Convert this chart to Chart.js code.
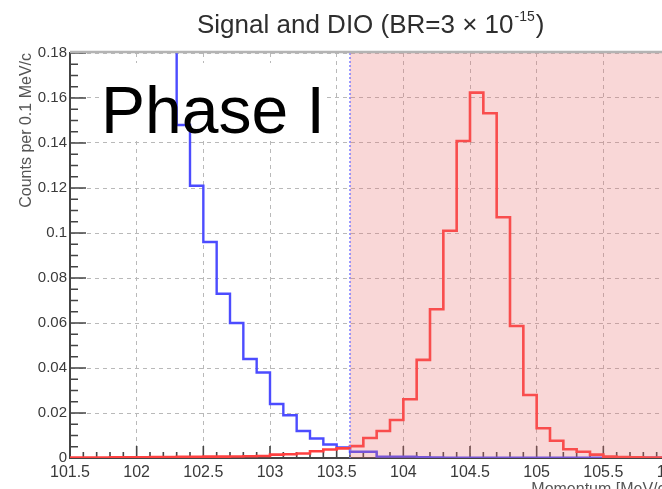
<!DOCTYPE html>
<html>
<head>
<meta charset="utf-8">
<title>Signal and DIO</title>
<script src="https://cdn.jsdelivr.net/npm/chart.js@4.4.1/dist/chart.umd.min.js"></script>
<style>
  html, body { margin: 0; padding: 0; background: #fff; width: 662px; height: 489px; overflow: hidden; }
  #wrap { position: relative; width: 720px; height: 489px; }
  #plot { position: absolute; left: 0; top: 0; filter: blur(0.75px); }
  #phase {
    position: absolute; left: 101px; top: 77px;
    font: 66px "Liberation Sans", Arial, Helvetica, sans-serif;
    line-height: 66px; color: #000; white-space: nowrap;
  }
</style>
</head>
<body>
<div id="wrap">
  <canvas id="plot" width="720" height="489"></canvas>
  <div id="phase">Phase I</div>
</div>
<script>
// Bin edges of the momentum histogram (MeV/c), 0.1 MeV/c bins
const momentumEdges = [
  101.5, 101.6, 101.7, 101.8, 101.9, 102.0, 102.1, 102.2, 102.3, 102.4,
  102.5, 102.6, 102.7, 102.8, 102.9, 103.0, 103.1, 103.2, 103.3, 103.4,
  103.5, 103.6, 103.7, 103.8, 103.9, 104.0, 104.1, 104.2, 104.3, 104.4,
  104.5, 104.6, 104.7, 104.8, 104.9, 105.0, 105.1, 105.2, 105.3, 105.4,
  105.5, 105.6, 105.7, 105.8, 105.9, 106.0
];

// Conversion-electron signal, counts per bin
const signalCounts = [
  0.0002, 0.0002, 0.0002, 0.0003, 0.0003, 0.0003, 0.0004, 0.0004, 0.0005, 0.0005,
  0.0006, 0.0006, 0.0007, 0.0008, 0.0009, 0.0015, 0.0017, 0.0020, 0.0030, 0.0038,
  0.0043, 0.0053, 0.0089, 0.0120, 0.0169, 0.0261, 0.0436, 0.0661, 0.1010, 0.1409,
  0.1624, 0.1532, 0.1070, 0.0587, 0.0280, 0.0132, 0.0077, 0.0039, 0.0028, 0.0015,
  0.0006, 0.0004, 0.0003, 0.0002, 0.0002
];

// Decay-in-orbit background, counts per bin (low-momentum bins run off scale)
const dioCounts = [
  0.62, 0.55, 0.48, 0.42, 0.36, 0.30, 0.25, 0.20, 0.148, 0.121,
  0.096, 0.073, 0.060, 0.044, 0.038, 0.024, 0.019, 0.012, 0.0087, 0.0060,
  0.0047, 0.0028, 0.0028, 0.0006, 0.0006, 0.0006, 0.0004, 0.0002, 0.0001, 0.0001,
  0.0001, 0.0001, 0.0001, 0.0001, 0.0001, 0.0001, 0.0001, 0.0001, 0.0001, 0.0001,
  0.0001, 0.0001, 0.0001, 0.0001, 0.0001
];

// Signal momentum window (MeV/c)
const signalWindow = [103.6, 106.0];

const xTickLabels = ['101.5', '102', '102.5', '103', '103.5', '104', '104.5', '105', '105.5', '106'];
const yTickLabels = ['0', '0.02', '0.04', '0.06', '0.08', '0.1', '0.12', '0.14', '0.16', '0.18'];
const xTickValues = xTickLabels.map(Number);
const yTickValues = yTickLabels.map(Number);

const FONT = '"Liberation Sans", Arial, Helvetica, sans-serif';

// Points for a step histogram: one per lower bin edge, closed at the last upper edge
function stepPoints(counts) {
  const pts = counts.map((v, i) => ({ x: momentumEdges[i], y: v }));
  pts.push({ x: momentumEdges[counts.length], y: counts[counts.length - 1] });
  return pts;
}

// Frame decorations in the ROOT style: inner ticks, shaded window, titles
const rootFrame = {
  id: 'rootFrame',
  beforeDatasetsDraw(chart) {
    const { ctx, chartArea: a, scales: { x, y } } = chart;
    // white panel behind the caption
    ctx.save();
    ctx.fillStyle = '#fff';
    ctx.fillRect(100, 63, 227, 77);
    ctx.restore();

    // inner tick marks
    ctx.save();
    ctx.strokeStyle = '#444';
    ctx.lineWidth = 1.6;
    ctx.beginPath();
    for (let i = 0; i < yTickValues.length; i++) {
      const py = y.getPixelForValue(yTickValues[i]);
      ctx.moveTo(a.left, py); ctx.lineTo(a.left + 16, py);
      if (i < yTickValues.length - 1) {
        const step = (yTickValues[i + 1] - yTickValues[i]) / 4;
        for (let k = 1; k < 4; k++) {
          const pm = y.getPixelForValue(yTickValues[i] + k * step);
          ctx.moveTo(a.left, pm); ctx.lineTo(a.left + 8, pm);
        }
      }
    }
    for (let i = 0; i < xTickValues.length; i++) {
      const px = x.getPixelForValue(xTickValues[i]);
      ctx.moveTo(px, a.bottom); ctx.lineTo(px, a.bottom - 12);
      if (i < xTickValues.length - 1) {
        const step = (xTickValues[i + 1] - xTickValues[i]) / 5;
        for (let k = 1; k < 5; k++) {
          const pm = x.getPixelForValue(xTickValues[i] + k * step);
          ctx.moveTo(pm, a.bottom); ctx.lineTo(pm, a.bottom - 6);
        }
      }
    }
    ctx.stroke();
    ctx.restore();
  },
  afterDatasetsDraw(chart) {
    const { ctx, chartArea: a, scales: { x } } = chart;
    const x0 = x.getPixelForValue(signalWindow[0]);
    const x1 = x.getPixelForValue(signalWindow[1]);
    ctx.save();
    // signal window shading
    ctx.fillStyle = 'rgba(235, 110, 110, 0.28)';
    ctx.fillRect(x0, a.top, x1 - x0, a.bottom - a.top);
    // lower window boundary
    ctx.strokeStyle = '#7c7cff';
    ctx.lineWidth = 1.5;
    ctx.setLineDash([2, 2]);
    ctx.beginPath();
    ctx.moveTo(x0, a.top); ctx.lineTo(x0, a.bottom);
    ctx.stroke();
    ctx.setLineDash([]);
    // top edge of the frame
    ctx.strokeStyle = '#b4b4b4';
    ctx.lineWidth = 2.5;
    ctx.beginPath();
    ctx.moveTo(a.left, a.top - 1); ctx.lineTo(chart.width, a.top - 1);
    ctx.stroke();
    ctx.restore();
  },
  afterDraw(chart) {
    const { ctx, chartArea: a } = chart;
    ctx.save();
    // histogram title with superscript exponent
    ctx.fillStyle = '#2e2e2e';
    ctx.textBaseline = 'alphabetic';
    ctx.textAlign = 'left';
    const main = 'Signal and DIO (BR=3 \u00d7 10';
    ctx.font = '26px ' + FONT;
    let tx = 197;
    const ty = 33;
    ctx.fillText(main, tx, ty);
    tx += ctx.measureText(main).width + 1;
    ctx.font = '14px ' + FONT;
    ctx.fillText('-15', tx, ty - 12);
    tx += ctx.measureText('-15').width + 1;
    ctx.font = '26px ' + FONT;
    ctx.fillText(')', tx, ty);

    // axis titles
    ctx.fillStyle = '#555';
    ctx.font = '16px ' + FONT;
    ctx.textAlign = 'right';
    ctx.fillText('Momentum [MeV/c]', a.right, 494);

    ctx.translate(31, a.top);
    ctx.rotate(-Math.PI / 2);
    ctx.font = '16px ' + FONT;
    ctx.textAlign = 'right';
    ctx.fillText('Counts per 0.1 MeV/c', 0, 0);
    ctx.restore();
  }
};

const gridColor = '#b9b9b9';

new Chart(document.getElementById('plot'), {
  type: 'line',
  data: {
    datasets: [
      {
        label: 'Signal',
        data: stepPoints(signalCounts),
        borderColor: '#ff4040',
        borderWidth: 2.6,
        stepped: 'before',
        pointRadius: 0,
        fill: false,
        order: 0
      },
      {
        label: 'DIO',
        data: stepPoints(dioCounts),
        borderColor: '#4c4cff',
        borderWidth: 2.4,
        stepped: 'before',
        pointRadius: 0,
        fill: false,
        order: 1
      }
    ]
  },
  options: {
    responsive: false,
    animation: false,
    devicePixelRatio: 1,
    layout: { padding: { top: 53, right: 50, left: 0, bottom: 0 } },
    plugins: {
      legend: { display: false },
      title: { display: false },
      tooltip: { enabled: false }
    },
    scales: {
      x: {
        type: 'linear',
        min: 101.5,
        max: 106,
        afterBuildTicks(scale) { scale.ticks = xTickValues.map(v => ({ value: v })); },
        afterFit(scale) { scale.height = 31; },
        ticks: {
          autoSkip: false,
          maxRotation: 0,
          padding: 5,
          color: '#3a3a3a',
          font: { family: FONT, size: 16 },
          callback: (v, i) => xTickLabels[i]
        },
        grid: { color: gridColor, lineWidth: 1, drawTicks: false },
        border: { color: '#444', width: 2, dash: [4, 4] }
      },
      y: {
        type: 'linear',
        min: 0,
        max: 0.18,
        afterBuildTicks(scale) { scale.ticks = yTickValues.map(v => ({ value: v })); },
        afterFit(scale) { scale.width = 70; },
        ticks: {
          padding: 3,
          color: '#3a3a3a',
          font: { family: FONT, size: 15 },
          callback: (v, i) => yTickLabels[i]
        },
        grid: { color: gridColor, lineWidth: 1, drawTicks: false },
        border: { color: '#444', width: 2, dash: [4, 4] }
      }
    }
  },
  plugins: [rootFrame]
});
</script>
</body>
</html>
